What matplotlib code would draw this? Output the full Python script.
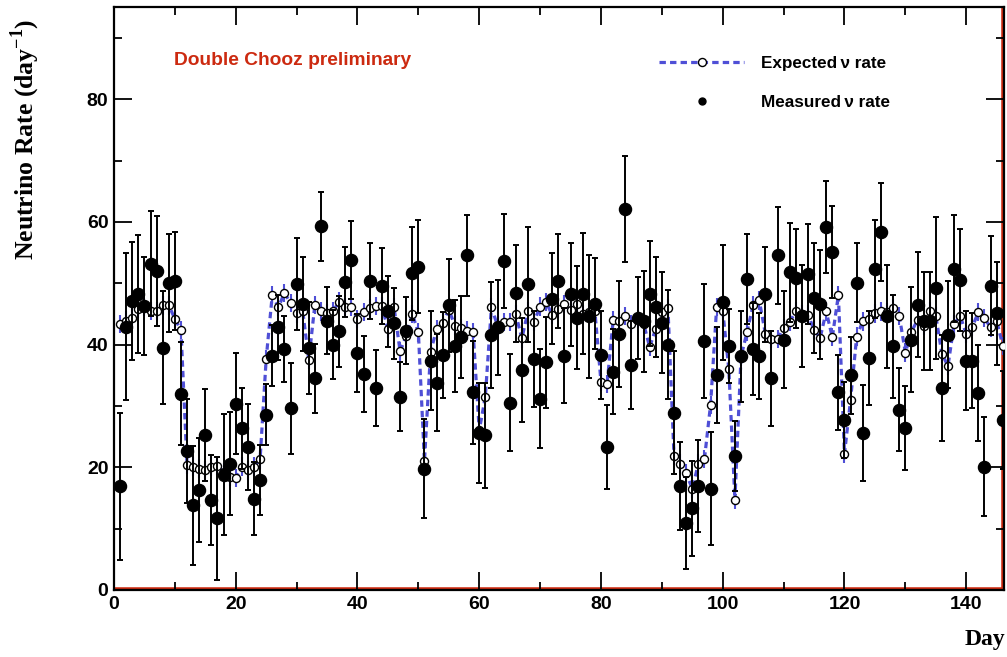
import matplotlib
matplotlib.use('Agg')
import matplotlib.pyplot as plt
from matplotlib.lines import Line2D
from matplotlib.ticker import MultipleLocator

# days 1..146
days = list(range(1, 147))

expected = [
    43.4, 43.9, 44.4, 45.8, 46.1, 45.5, 45.5, 46.4, 46.4, 44.2,
    42.4, 20.4, 20.1, 19.8, 19.5, 20.1, 20.2, 19.2, 18.4, 18.3,
    20.1, 19.5, 20.1, 21.3, 37.7, 48.1, 46.1, 48.4, 46.8, 45.1,
    45.5, 37.5, 46.5, 45.4, 45.1, 45.5, 47.0, 46.1, 46.1, 44.2,
    45.3, 45.9, 46.3, 46.3, 42.5, 46.1, 38.9, 41.4, 45.0, 42.0,
    21.0, 38.8, 42.5, 43.6, 45.7, 43.1, 42.7, 42.3, 42.0, 26.0,
    31.5, 46.1, 43.1, 43.7, 43.7, 45.0, 41.0, 45.4, 43.7, 46.2,
    46.9, 44.8, 45.8, 46.6, 45.6, 46.6, 45.0, 45.3, 45.4, 33.9,
    33.6, 44.0, 43.9, 44.7, 43.4, 44.2, 43.4, 39.6, 42.6, 45.3,
    46.0, 21.8, 20.6, 19.0, 16.5, 20.6, 21.4, 30.2, 46.1, 45.5,
    36.0, 14.7, 38.0, 42.1, 46.5, 47.2, 41.8, 40.9, 40.9, 42.7,
    43.7, 45.4, 45.0, 44.9, 42.4, 41.1, 45.4, 41.2, 48.1, 22.2,
    31.0, 41.3, 43.8, 44.2, 45.1, 45.4, 45.3, 46.0, 44.7, 38.7,
    42.1, 44.0, 43.1, 45.4, 44.7, 38.5, 36.5, 43.3, 44.7, 41.7,
    42.9, 45.3, 44.3, 42.8, 43.9, 39.8,
]

measured = [
    16.9, 42.9, 47.1, 48.2, 46.3, 53.2, 52.0, 39.5, 50.0, 50.4,
    32.0, 22.6, 13.8, 16.3, 25.3, 14.7, 11.7, 18.8, 20.6, 30.4,
    26.4, 23.3, 14.9, 17.9, 28.6, 38.2, 42.8, 39.3, 29.6, 49.9,
    46.6, 39.4, 34.5, 59.3, 43.9, 40.0, 42.2, 50.2, 53.8, 38.6,
    35.2, 50.3, 32.9, 49.6, 45.4, 43.5, 31.5, 42.3, 51.6, 52.7,
    19.8, 37.4, 33.8, 38.3, 46.4, 39.7, 41.3, 54.6, 32.2, 25.6,
    25.2, 41.6, 42.8, 53.6, 30.5, 48.4, 35.9, 49.8, 37.7, 31.2,
    37.1, 47.5, 50.4, 38.2, 48.2, 44.4, 48.3, 44.6, 46.7, 38.3,
    23.3, 35.6, 41.7, 62.1, 36.7, 44.4, 43.8, 48.3, 46.1, 43.6,
    40.0, 28.9, 16.9, 10.9, 13.3, 17.0, 40.6, 16.5, 35.1, 46.9,
    39.8, 21.8, 38.1, 50.7, 39.3, 38.1, 48.2, 34.5, 54.6, 40.8,
    51.8, 50.8, 44.6, 51.5, 47.6, 46.6, 59.2, 55.1, 32.2, 27.7,
    35.0, 50.1, 25.6, 37.8, 52.3, 58.4, 44.6, 39.7, 29.4, 26.4,
    40.8, 46.5, 43.9, 43.9, 49.2, 32.9, 41.6, 52.4, 50.6, 37.4,
    37.4, 32.1, 20.1, 49.6, 45.1, 27.7,
]

measured_err = [
    12.0, 12.0, 9.6, 9.6, 8.0, 8.5, 9.0, 9.2, 8.0, 8.0,
    8.4, 8.5, 9.7, 8.5, 7.5, 7.3, 10.0, 9.9, 8.4, 8.3,
    6.6, 7.0, 6.0, 5.7, 5.0, 5.0, 5.3, 5.4, 7.4, 7.5,
    7.7, 7.5, 5.6, 5.6, 5.5, 5.6, 5.8, 5.7, 6.4, 6.4,
    6.2, 6.2, 6.2, 6.2, 5.8, 5.8, 5.6, 5.5, 7.6, 7.6,
    8.0, 8.0, 7.9, 7.0, 7.6, 7.5, 6.7, 6.6, 8.4, 8.2,
    8.6, 8.6, 7.8, 7.7, 7.9, 7.9, 8.5, 9.3, 7.8, 8.1,
    7.4, 7.4, 7.7, 7.7, 8.4, 8.4, 9.9, 10.0, 7.4, 7.2,
    6.9, 6.9, 8.6, 8.6, 7.2, 6.7, 8.2, 8.6, 8.2, 8.2,
    8.9, 10.0, 7.2, 7.5, 7.8, 7.5, 9.3, 9.2, 7.8, 9.4,
    6.0, 5.7, 7.4, 7.4, 7.5, 7.0, 7.7, 7.8, 7.9, 7.9,
    8.1, 8.1, 8.3, 8.1, 8.9, 8.9, 7.5, 7.5, 6.1, 6.2,
    6.3, 6.4, 7.8, 7.6, 8.0, 8.0, 8.4, 8.4, 6.8, 6.9,
    8.6, 8.6, 8.0, 8.0, 11.6, 8.6, 8.7, 8.7, 8.3, 8.0,
    7.7, 7.8, 8.1, 8.1, 8.4, 8.0,
]

expected_err = 1.5

blue = '#4f4fd6'
red = '#cc2a10'
sans = ['Liberation Sans', 'DejaVu Sans']
serif = ['Liberation Serif', 'DejaVu Serif']

fig = plt.figure(figsize=(10.07, 6.57), dpi=100)
ax = fig.add_axes([0.1132, 0.102, 0.8838, 0.887])

# expected: dashed line + open circles
ax.errorbar(days, expected, yerr=expected_err, fmt='none', ecolor=blue,
            elinewidth=1.5, capsize=0, zorder=2)
ax.plot(days, expected, ls=(0, (2.0, 1.3)), color=blue, lw=2.3, zorder=2)
ax.plot(days, expected, ls='none', marker='o', ms=5.8, mfc='white',
        mec='black', mew=1.0, zorder=3)

# measured: filled dots with error bars
ax.errorbar(days, measured, yerr=measured_err, fmt='o', color='black',
            ms=8.7, elinewidth=1.4, capsize=2.2, capthick=1.4, zorder=4)

ax.set_xlim(0, 146.2)
ax.set_ylim(0, 95)
ax.axhline(0, color=red, lw=4, zorder=1)
ax.axvline(146.2, color=red, lw=4, zorder=1)

ax.xaxis.set_major_locator(MultipleLocator(20))
ax.xaxis.set_minor_locator(MultipleLocator(10))
ax.yaxis.set_major_locator(MultipleLocator(20))
ax.yaxis.set_minor_locator(MultipleLocator(10))
ax.tick_params(which='both', direction='in', top=True, right=True,
               width=1.3, colors='black')
ax.tick_params(which='major', length=13, pad=4)
ax.tick_params(which='minor', length=6)
for sp in ax.spines.values():
    sp.set_linewidth(1.6)

for lab in ax.get_xticklabels() + ax.get_yticklabels():
    lab.set_family(sans)
    lab.set_fontweight('bold')
    lab.set_fontsize(14)

fig.text(0.025, 0.972, 'Neutrino Rate (day$^{\\mathregular{-1}}$)', rotation=90,
         ha='center', va='top', fontsize=18.5, fontweight='bold', family=serif)
fig.text(0.998, 0.01, 'Day', ha='right', va='bottom', fontsize=17,
         fontweight='bold', family=serif)

ax.text(0.067, 0.909, 'Double Chooz preliminary', transform=ax.transAxes,
        color=red, fontsize=13.8, fontweight='bold', family=sans,
        ha='left', va='center')

handles = [
    Line2D([], [], ls=(0, (2.0, 1.3)), color=blue, lw=2.3, marker='o',
           ms=5.8, mfc='white', mec='black', mew=1.0),
    Line2D([], [], ls='none', marker='o', color='black', ms=5),
]
leg = ax.legend(handles, ['Expected\u2009\u03bd rate', 'Measured\u2009\u03bd rate'],
                loc='upper left', bbox_to_anchor=(0.595, 0.943), frameon=False,
                handlelength=5.0, labelspacing=1.4, handletextpad=1.0,
                prop={'family': sans, 'weight': 'bold', 'size': 12.3})

fig.savefig('out.png', dpi=100)
